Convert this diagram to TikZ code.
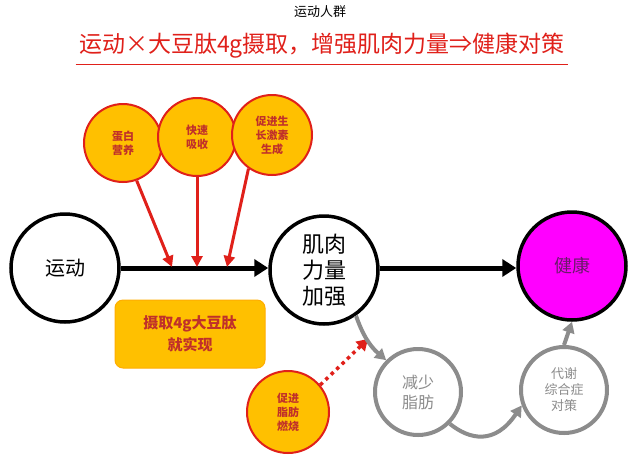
\documentclass[tikz,border=0pt]{standalone}
\usepackage{fontspec}
\setmainfont{Noto Sans CJK SC}
\usetikzlibrary{arrows.meta}
\definecolor{gold}{HTML}{FFC000}
\definecolor{bred}{HTML}{E0201A}
\definecolor{tred}{HTML}{C0302A}
\definecolor{gr}{HTML}{8C8C8C}
\definecolor{mag}{HTML}{FF00FF}
\definecolor{purp}{HTML}{6A1A6A}
\begin{document}
\begin{tikzpicture}[x=1pt,y=-1pt,
  bigc/.style={circle,draw=black,line width=3.5pt,fill=white,minimum size=108pt,inner sep=0pt,align=center},
  grc/.style={circle,draw=gr,line width=4pt,fill=white,minimum size=86pt,inner sep=0pt,align=center,text=gr},
  yc/.style={circle,draw=bred,line width=2pt,fill=gold,minimum size=78pt,inner sep=0pt,align=center,text=tred,font=\fontsize{11}{14}\selectfont\bfseries},
  mainarr/.style={line width=5pt,-{Triangle[length=14pt,width=17pt]}},
  redarr/.style={bred,line width=3pt,-{Triangle[length=11pt,width=11pt]}},
  grarr/.style={gr,line width=4pt,-{Triangle[length=11pt,width=12pt]}}]
\useasboundingbox (0,0) rectangle (640,459);
\fill[white] (0,0) rectangle (640,459);
% titles
\node (t1) at (320,12) {\fontsize{13}{15}\selectfont 运动人群};
\node[text=bred] (t2) at (322,46) {\fontsize{23}{25}\selectfont 运动×大豆肽4g摄取，增强肌肉力量⇒健康对策};
\draw[bred,line width=1pt] ([yshift=-2pt]t2.south west) -- ([yshift=-2pt]t2.south east);
% main nodes
\node[bigc,font=\fontsize{20}{24}\selectfont] (yd) at (65,268) {运动};
\node[bigc,font=\fontsize{22}{26}\selectfont] (jr) at (324,270) {肌肉\\力量\\加强};
\node[bigc,fill=mag,text=purp,font=\fontsize{18}{22}\selectfont] (jk) at (572,266) {健康};
\node[grc,font=\fontsize{16}{20}\selectfont] (js) at (418,392) {减少\\脂肪};
\node[grc,font=\fontsize{13}{16}\selectfont] (dx) at (564,390) {代谢\\综合症\\对策};
% yellow bubbles
\node[yc] (y1) at (123,143) {蛋白\\营养};
\node[yc] (y2) at (197,137) {快速\\吸收};
\node[yc,minimum size=80pt] (y3) at (272,135) {促进生\\长激素\\生成};
\node[yc,minimum size=82pt] (y4) at (288,412) {促进\\脂肪\\燃烧};
\node[rounded corners=8pt,draw=gold!70!orange,line width=1pt,fill=gold,minimum width=150pt,minimum height=68pt,align=center,text=tred,font=\fontsize{15}{22}\selectfont\bfseries] (box) at (190,334) {摄取4g大豆肽\\就实现};
% main arrows
\coordinate (a1) at (yd.east);
\draw[mainarr] (a1) -- (a1 -| jr.west);
\coordinate (a2) at (jr.east |- a1);
\draw[mainarr] (a2) -- (a2 -| jk.west);
% red arrows
\coordinate (r1) at (172,267);
\coordinate (r2) at (197,267);
\coordinate (r3) at (227,267);
\draw[redarr] (y1.-70) -- (r1);
\draw[redarr] (y2.south) -- (r2);
\draw[redarr] (y3.-125) -- (r3);
% dotted
\coordinate (d1) at (368,339);
\draw[bred,line width=3.5pt,dash pattern=on 3.5pt off 4pt,-{Triangle[length=11pt,width=13pt]}] (y4.40) -- (d1);
% gray arrows
\draw[grarr] (jr.-55) to[bend right=15] (js.135);
\draw[grarr] (js.-45) .. controls (470,440) and (495,445) .. (dx.200);
\draw[grarr] (dx.north) -- (jk.south);
\end{tikzpicture}
\end{document}
